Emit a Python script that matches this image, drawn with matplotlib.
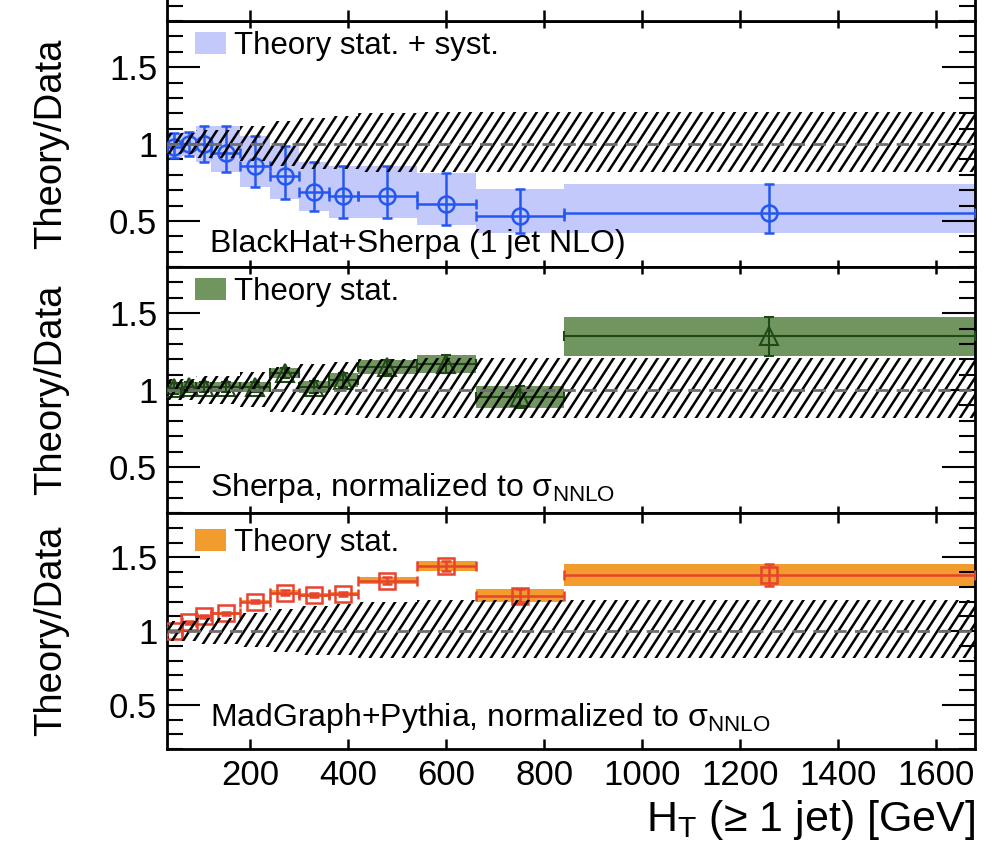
import numpy as np
import matplotlib
matplotlib.use("Agg")
import matplotlib.pyplot as plt
from matplotlib.patches import Polygon, Patch
from matplotlib.collections import LineCollection
from matplotlib.ticker import MultipleLocator, FixedLocator, FixedFormatter

plt.rcParams['font.family'] = ['Liberation Sans', 'DejaVu Sans']
plt.rcParams['mathtext.fontset'] = 'custom'
plt.rcParams['mathtext.rm'] = 'Liberation Sans'
plt.rcParams['lines.scale_dashes'] = False

# ---- binning in H_T (GeV) ----
bin_edges = [30, 60, 90, 120, 180, 240, 300, 360, 420, 540, 660, 840, 1680]
bin_centers = [45, 75, 105, 150, 210, 270, 330, 390, 480, 600, 750, 1260]

# ---- measured data uncertainty (relative) ----
data_unc_up = [0.07, 0.07, 0.09, 0.09, 0.12, 0.15, 0.17, 0.18, 0.20, 0.21, 0.21, 0.21]
data_unc_dn = [0.065, 0.065, 0.09, 0.09, 0.11, 0.14, 0.16, 0.16, 0.18, 0.18, 0.18, 0.18]

# ---- BlackHat+Sherpa (1 jet NLO) ----
blackhat_ratio = [0.98, 1.00, 1.00, 0.94, 0.86, 0.79, 0.69, 0.66, 0.66, 0.61, 0.53, 0.55]
blackhat_up = [0.09, 0.08, 0.12, 0.18, 0.19, 0.20, 0.19, 0.20, 0.20, 0.20, 0.18, 0.19]
blackhat_dn = [0.07, 0.08, 0.12, 0.12, 0.14, 0.145, 0.125, 0.14, 0.14, 0.135, 0.11, 0.13]

# ---- Sherpa, normalized to sigma_NNLO ----
sherpa_ratio = [1.01, 1.02, 1.02, 1.02, 1.02, 1.11, 1.02, 1.065, 1.15, 1.17, 0.955, 1.35]
sherpa_err = [0.035, 0.03, 0.03, 0.03, 0.03, 0.032, 0.04, 0.045, 0.048, 0.06, 0.073, 0.127]

# ---- MadGraph+Pythia, normalized to sigma_NNLO ----
madgraph_ratio = [1.00, 1.06, 1.10, 1.12, 1.20, 1.26, 1.245, 1.25, 1.34, 1.44, 1.24, 1.38]
madgraph_err = [0.01, 0.01, 0.01, 0.012, 0.012, 0.015, 0.015, 0.015, 0.023, 0.035, 0.042, 0.075]

ytick_vals = [0.5, 1.0, 1.5]
ytick_labels = ['0.5', '1', '1.5']
xtick_vals = [200, 400, 600, 800, 1000, 1200, 1400, 1600]
xtick_labels = ['200', '400', '600', '800', '1000', '1200', '1400', '1600']

XLIM = (bin_edges[0], bin_edges[-1])
YLIM = (0.2, 1.8)

W, H = 998, 842
fig = plt.figure(figsize=(W / 100, H / 100), dpi=100)

def px_axes(top, bottom, left=167, right=975):
    return fig.add_axes([left / W, 1 - bottom / H, (right - left) / W, (bottom - top) / H])

ax_top = px_axes(21, 267)
ax_mid = px_axes(267, 513)
ax_bot = px_axes(513, 749)
# strip of the panel sitting above
ax_strip = px_axes(0, 21)

edges = np.array(bin_edges, float)
centers = np.array(bin_centers, float)
widths = np.diff(edges)
xerr = [centers - edges[:-1], edges[1:] - centers]

TICK_FS = 25
SPINE_LW = 2.0
LEG_FS = 22.5
NOTE_FS = 23


def style_axes(ax, bottom_labels=False, xtick_len=5):
    ax.set_xlim(*XLIM)
    ax.set_ylim(*YLIM)
    for s in ax.spines.values():
        s.set_linewidth(SPINE_LW)
    ax.yaxis.set_major_locator(FixedLocator(ytick_vals))
    ax.yaxis.set_major_formatter(FixedFormatter(ytick_labels))
    ax.yaxis.set_minor_locator(MultipleLocator(0.1))
    ax.xaxis.set_major_locator(FixedLocator(xtick_vals))
    ax.xaxis.set_major_formatter(FixedFormatter(xtick_labels))
    ax.tick_params(axis='y', which='major', direction='in', length=24, width=1.5,
                   left=True, right=True, labelsize=TICK_FS, pad=7)
    ax.tick_params(axis='y', which='minor', direction='in', length=11.5, width=1.5,
                   left=True, right=True)
    ax.tick_params(axis='x', which='major', direction='in', length=xtick_len, width=1.8,
                   top=True, bottom=True, labelbottom=bottom_labels,
                   labelsize=TICK_FS, pad=7)
    ax.set_ylabel('Theory/Data', fontsize=27.5)
    ax.yaxis.set_label_coords(-0.121, 0.5)


def data_band(ax):
    # hatched band of the measurement uncertainty around unity
    up = 1 + np.array(data_unc_up)
    dn = 1 - np.array(data_unc_dn)
    verts = []
    for i in range(len(up)):
        verts += [(edges[i], up[i]), (edges[i + 1], up[i])]
    for i in reversed(range(len(dn))):
        verts += [(edges[i + 1], dn[i]), (edges[i], dn[i])]
    poly = Polygon(verts, closed=True, facecolor='none', edgecolor='none')
    ax.add_patch(poly)
    bb = ax.get_position()
    wpx = bb.width * W
    hpx = bb.height * H
    ang = np.deg2rad(57)
    spacing = 11.0
    dx = (hpx / np.tan(ang)) / wpx
    step = spacing / wpx
    starts = np.arange(-dx - step, 1 + step, step)
    segs = [[(x0, 0), (x0 + dx, 1)] for x0 in starts]
    lc = LineCollection(segs, colors='black', linewidths=1.8, transform=ax.transAxes, zorder=4)
    ax.add_collection(lc)
    lc.set_clip_path(poly)
    ax.axhline(1.0, color='#6e6e6e', lw=2.0, dashes=(9, 6), zorder=5)


def legend_swatch(ax, color, label, ycen):
    ax.legend(handles=[Patch(facecolor=color, edgecolor='none', label=label)],
              loc='center left', bbox_to_anchor=(0.0347, ycen), frameon=False,
              fontsize=LEG_FS, handlelength=1.0, handleheight=0.7, handletextpad=0.25,
              borderpad=0, borderaxespad=0)


# ---- top panel ----
blue = '#2457f0'
blue_band = '#c3c9fb'
bh = np.array(blackhat_ratio)
ax_top.bar(edges[:-1], np.array(blackhat_up) + np.array(blackhat_dn), width=widths,
           bottom=bh - np.array(blackhat_dn), align='edge', color=blue_band,
           edgecolor='none', zorder=1)
ax_top.errorbar(centers, bh, xerr=xerr, yerr=[blackhat_dn, blackhat_up], fmt='o',
                ms=11.5, mfc='none', mec=blue, mew=1.8, color=blue, elinewidth=1.8,
                capsize=3.5, capthick=1.8, zorder=3)
data_band(ax_top)
style_axes(ax_top)
legend_swatch(ax_top, blue_band, 'Theory stat. + syst.', 0.898)
ax_top.text(0.053, 0.062, 'BlackHat+Sherpa (1 jet NLO)', transform=ax_top.transAxes,
            fontsize=NOTE_FS, va='baseline', ha='left')

# ---- middle panel ----
green_band = '#71955f'
green = '#1f4a17'
sh = np.array(sherpa_ratio)
she = np.array(sherpa_err)
ax_mid.bar(edges[:-1], 2 * she, width=widths, bottom=sh - she, align='edge',
           color=green_band, edgecolor='none', zorder=1)
ax_mid.errorbar(centers, sh, xerr=xerr, yerr=she, fmt='^', ms=13, mfc='none',
                mec=green, mew=1.5, color=green, elinewidth=1.5, capsize=3.5,
                capthick=1.5, zorder=3)
data_band(ax_mid)
style_axes(ax_mid)
legend_swatch(ax_mid, green_band, 'Theory stat.', 0.898)
ax_mid.text(0.053, 0.069, r'Sherpa, normalized to σ$_{\mathregular{NNLO}}$',
            transform=ax_mid.transAxes, fontsize=NOTE_FS, va='baseline', ha='left')

# ---- bottom panel ----
orange = '#f39c2e'
red = '#e8432c'
mg = np.array(madgraph_ratio)
mge = np.array(madgraph_err)
ax_bot.bar(edges[:-1], 2 * mge, width=widths, bottom=mg - mge, align='edge',
           color=orange, edgecolor='none', zorder=1)
ax_bot.errorbar(centers, mg, xerr=xerr, yerr=mge, fmt='s', ms=11.5, mfc='none',
                mec=red, mew=1.8, color=red, elinewidth=1.8, capsize=3.5,
                capthick=1.8, zorder=3)
data_band(ax_bot)
style_axes(ax_bot, bottom_labels=True, xtick_len=7)
legend_swatch(ax_bot, orange, 'Theory stat.', 0.873)
ax_bot.text(0.053, 0.097, r'MadGraph+Pythia, normalized to σ$_{\mathregular{NNLO}}$',
            transform=ax_bot.transAxes, fontsize=NOTE_FS, va='baseline', ha='left')

# ---- strip above ----
ax_strip.set_xlim(*XLIM)
ax_strip.set_ylim(0.2, 0.2 + 21 / 154)
ax_strip.spines['top'].set_visible(False)
for s in ['left', 'right', 'bottom']:
    ax_strip.spines[s].set_linewidth(SPINE_LW)
ax_strip.xaxis.set_major_locator(FixedLocator(xtick_vals))
ax_strip.yaxis.set_minor_locator(MultipleLocator(0.1))
ax_strip.yaxis.set_major_locator(FixedLocator([]))
ax_strip.tick_params(axis='x', direction='in', length=8, width=1.8, labelbottom=False)
ax_strip.tick_params(axis='y', which='minor', direction='in', length=11.5, width=1.5,
                     left=True, right=True)

fig.text(975 / W, 1 - 831 / H, r'H$_{\mathregular{T}}$ (≥ 1 jet) [GeV]', fontsize=31,
         ha='right', va='baseline')

fig.savefig('out.png', dpi=100)
